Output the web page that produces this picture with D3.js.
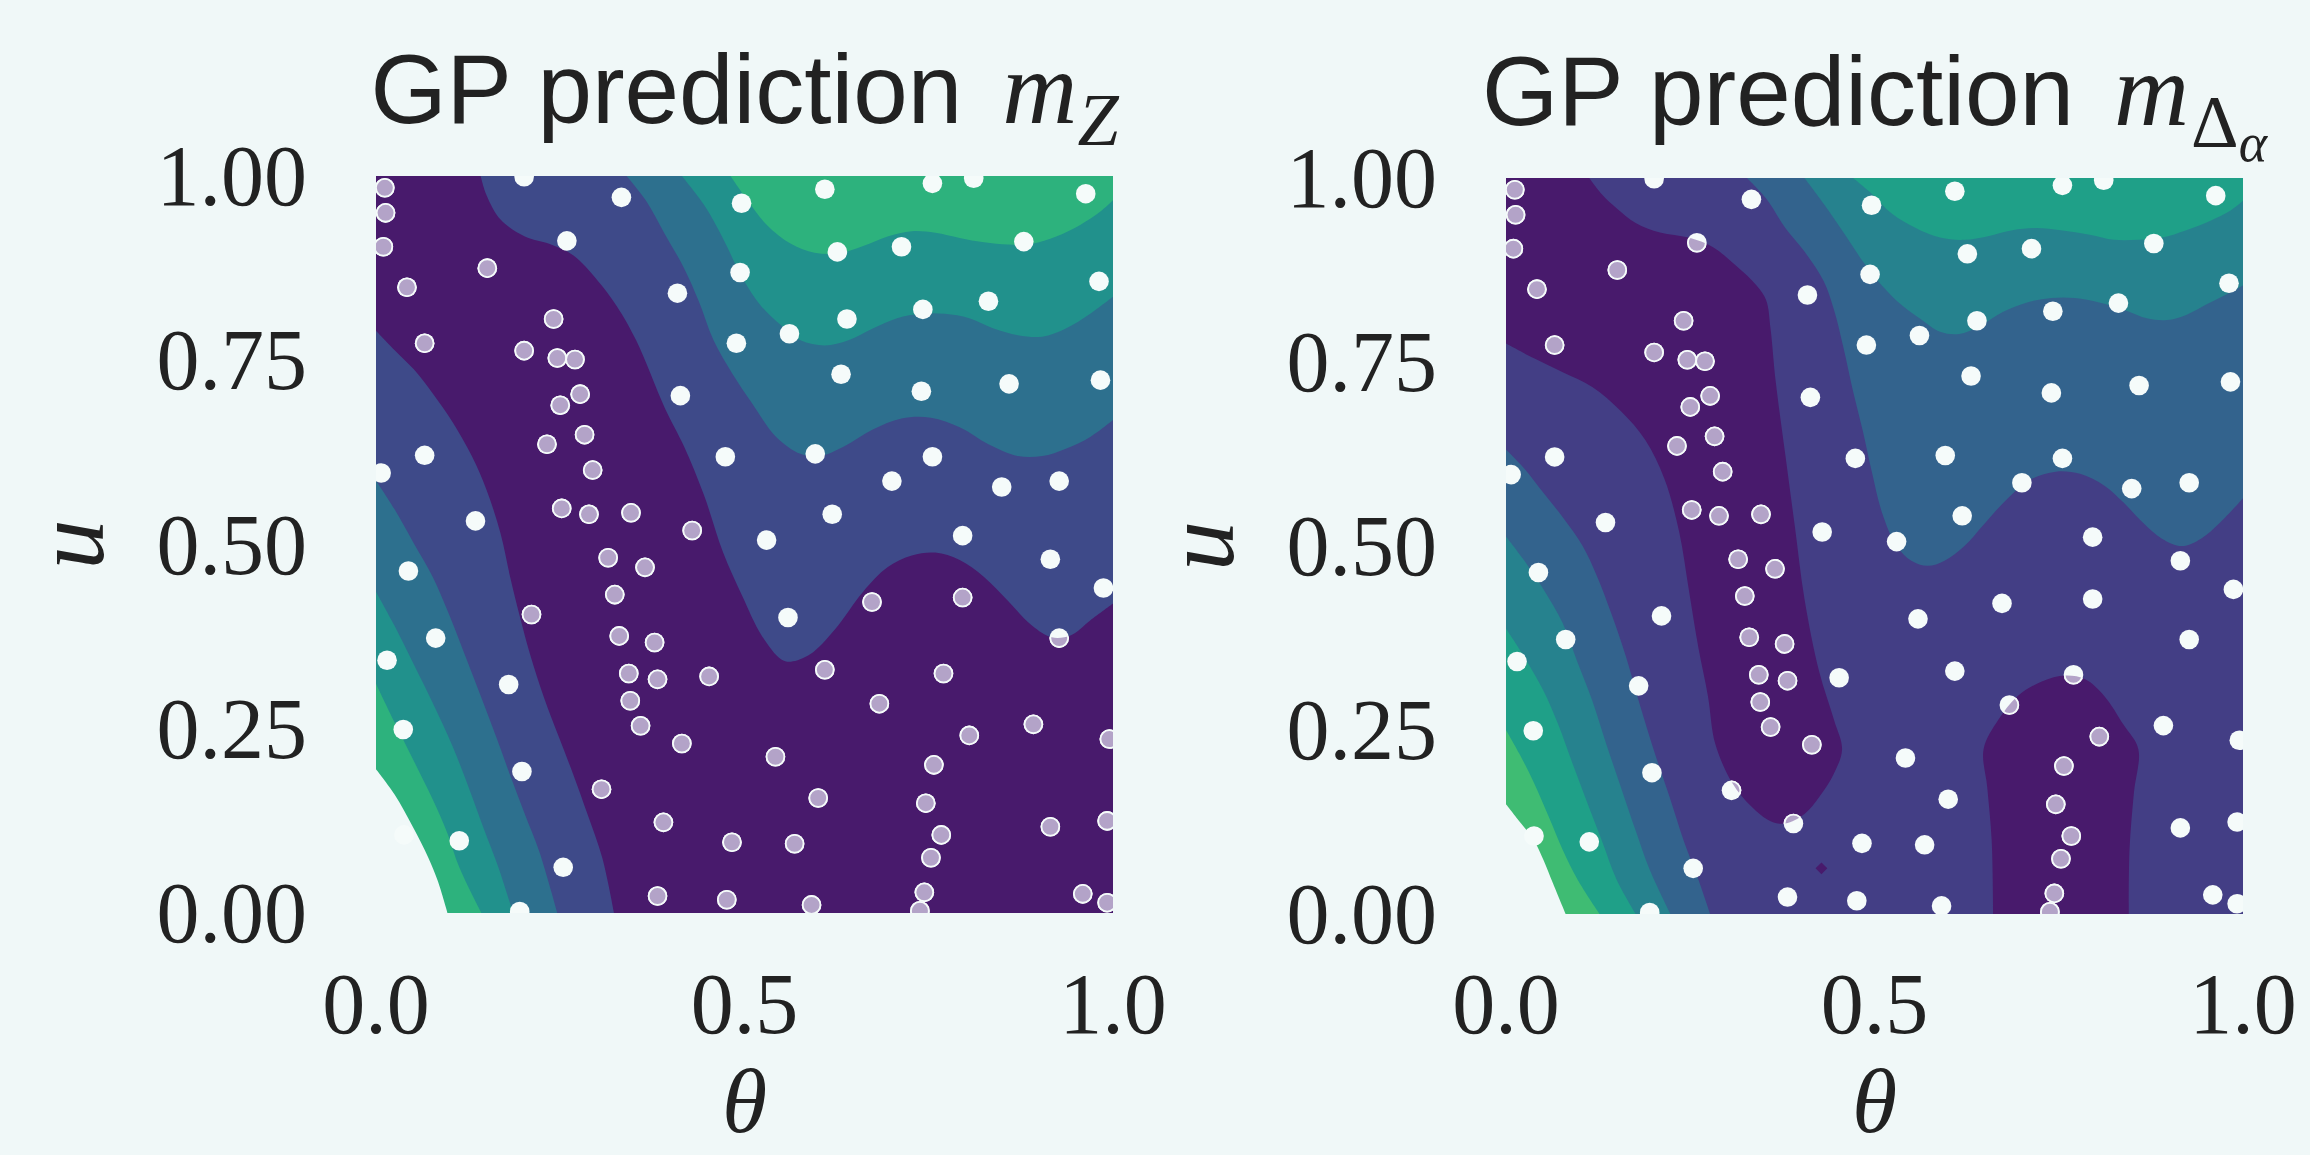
<!DOCTYPE html>
<html>
<head>
<meta charset="utf-8">
<script src="https://cdn.jsdelivr.net/npm/d3@7"></script>
<style>
  body { margin: 0; background: #f0f8f8; }
</style>
</head>
<body>
<div id="chart"></div>
<script>
(function() {

    // ---- data (theta, u) ----
    const thetaTicks = [0, 0.5, 1];
    const uTicks = [0, 0.25, 0.5, 0.75, 1];

    // training points, same design in both panels
    const samples = [
        [0.012,0.984],[0.013,0.950],[0.010,0.904],[0.151,0.875],[0.042,0.849],[0.201,0.999],
        [0.333,0.971],[0.259,0.912],[0.241,0.806],[0.066,0.773],[0.201,0.763],[0.246,0.753],
        [0.270,0.751],[0.277,0.704],[0.250,0.689],[0.283,0.649],[0.232,0.636],[0.294,0.601],
        [0.066,0.621],[0.007,0.597],[0.135,0.532],[0.252,0.549],[0.289,0.541],[0.346,0.543],
        [0.429,0.519],[0.315,0.482],[0.365,0.469],[0.044,0.464],[0.324,0.432],[0.211,0.405],
        [0.081,0.373],[0.330,0.376],[0.378,0.367],[0.015,0.343],[0.180,0.310],[0.343,0.325],
        [0.382,0.317],[0.452,0.321],[0.345,0.288],[0.359,0.254],[0.415,0.230],[0.037,0.249],
        [0.198,0.192],[0.306,0.168],[0.390,0.123],[0.113,0.098],[0.254,0.062],[0.483,0.096],
        [0.568,0.094],[0.382,0.023],[0.476,0.018],[0.591,0.011],[0.195,0.002],[0.542,0.212],
        [0.600,0.156],[0.609,0.330],[0.683,0.284],[0.673,0.422],[0.559,0.401],[0.530,0.506],
        [0.619,0.541],[0.474,0.619],[0.596,0.623],[0.700,0.586],[0.755,0.619],[0.849,0.578],
        [0.927,0.586],[0.796,0.512],[0.915,0.480],[0.987,0.441],[0.796,0.428],[0.927,0.373],
        [0.770,0.325],[0.805,0.241],[0.892,0.256],[0.995,0.236],[0.757,0.201],[0.746,0.149],
        [0.767,0.106],[0.753,0.075],[0.744,0.028],[0.738,0.003],[0.915,0.117],[0.992,0.125],
        [0.959,0.026],[0.992,0.014],[0.413,0.702],[0.489,0.773],[0.561,0.786],[0.639,0.806],
        [0.742,0.819],[0.831,0.830],[0.981,0.857],[0.631,0.731],[0.740,0.708],[0.859,0.718],
        [0.983,0.723],[0.494,0.869],[0.626,0.897],[0.713,0.904],[0.879,0.911],[0.409,0.841],
        [0.496,0.963],[0.609,0.982],[0.755,0.990],[0.811,0.997],[0.963,0.976],[0.038,0.106]
    ];

    // left panel (m_Z): level boundaries
    const zColors = ["#481a6c", "#3e4a89", "#2d708e", "#21918c", "#2db27d"];
    const zTop1 = [[0.142,1.0],[0.150,0.974],[0.169,0.941],[0.202,0.918],[0.235,0.908],[0.268,0.892],
        [0.300,0.859],[0.327,0.823],[0.353,0.777],[0.392,0.685],[0.418,0.633],[0.445,0.567],
        [0.471,0.489],[0.497,0.430],[0.523,0.377],[0.550,0.344],[0.563,0.341],[0.589,0.351],
        [0.622,0.384],[0.661,0.436],[0.694,0.469],[0.727,0.485],[0.759,0.489],[0.792,0.479],
        [0.825,0.456],[0.858,0.423],[0.890,0.390],[0.917,0.374],[0.943,0.377],[0.969,0.397],[1.0,0.420]];
    const zTop2 = [[0.340,1.0],[0.366,0.967],[0.392,0.921],[0.418,0.875],[0.438,0.830],[0.458,0.777],
        [0.484,0.731],[0.510,0.692],[0.543,0.646],[0.576,0.623],[0.602,0.620],[0.635,0.633],
        [0.674,0.656],[0.713,0.671],[0.753,0.672],[0.792,0.659],[0.831,0.636],[0.871,0.620],
        [0.904,0.620],[0.936,0.630],[0.969,0.646],[1.0,0.669]];
    const zTop3 = [[0.415,1.0],[0.445,0.961],[0.471,0.915],[0.497,0.862],[0.523,0.823],[0.550,0.797],
        [0.576,0.777],[0.609,0.770],[0.641,0.777],[0.674,0.793],[0.707,0.807],[0.740,0.813],
        [0.772,0.813],[0.805,0.807],[0.838,0.793],[0.871,0.784],[0.904,0.782],[0.936,0.793],
        [0.969,0.813],[1.0,0.836]];
    const zTop4 = [[0.481,1.0],[0.504,0.967],[0.530,0.934],[0.563,0.908],[0.595,0.896],[0.628,0.895],
        [0.661,0.905],[0.694,0.918],[0.727,0.925],[0.759,0.923],[0.792,0.916],[0.825,0.910],
        [0.858,0.907],[0.890,0.908],[0.923,0.918],[0.956,0.934],[0.982,0.951],[1.0,0.967]];
    const zLow1 = [[0,0.790],[0.025,0.764],[0.051,0.738],[0.077,0.705],[0.104,0.666],[0.130,0.620],
        [0.150,0.574],[0.169,0.515],[0.182,0.456],[0.195,0.403],[0.209,0.351],[0.228,0.292],
        [0.248,0.239],[0.268,0.187],[0.287,0.134],[0.307,0.075],[0.323,0.0]];
    const zLow2 = [[0,0.587],[0.025,0.548],[0.051,0.502],[0.077,0.456],[0.100,0.403],[0.123,0.344],
        [0.143,0.292],[0.163,0.239],[0.182,0.187],[0.202,0.134],[0.222,0.082],[0.246,0.0]];
    const zLow3 = [[0,0.436],[0.025,0.390],[0.051,0.338],[0.077,0.285],[0.104,0.226],[0.127,0.167],
        [0.146,0.115],[0.166,0.062],[0.186,0.0]];
    const zLow4 = [[0,0.311],[0.025,0.259],[0.051,0.207],[0.077,0.154],[0.097,0.108],[0.113,0.062],[0.143,0.0]];
    const zMissing = [[0,0.195],[0.025,0.161],[0.051,0.115],[0.071,0.075],[0.084,0.043],[0.097,0.0]];

    // right panel (m_Delta_alpha)
    const dColors = ["#481a6c", "#433e85", "#33638d", "#26828e", "#1fa088", "#3fbc73"];
    const dLow0Tongue = [[0.113,1.0],[0.130,0.978],[0.150,0.959],[0.176,0.939],[0.209,0.926],[0.248,0.919],
        [0.281,0.906],[0.313,0.880],[0.340,0.854],[0.353,0.834],[0.359,0.795],[0.366,0.723],
        [0.379,0.624],[0.392,0.526],[0.405,0.428],[0.425,0.329],[0.445,0.264],[0.456,0.224],
        [0.445,0.191],[0.425,0.159],[0.405,0.136],[0.379,0.123],[0.359,0.126],[0.333,0.146],
        [0.307,0.178],[0.284,0.231],[0.274,0.296],[0.261,0.362],[0.248,0.441],[0.235,0.519],
        [0.215,0.591],[0.189,0.644],[0.156,0.683],[0.117,0.716],[0.077,0.736],[0.038,0.755],[0,0.775]];
    const dLow0Blob = [[0.661,0.0],[0.659,0.100],[0.653,0.172],[0.648,0.224],[0.668,0.264],[0.694,0.296],
        [0.727,0.316],[0.759,0.324],[0.786,0.319],[0.812,0.296],[0.838,0.257],[0.858,0.224],
        [0.852,0.165],[0.846,0.087],[0.845,0.0]];
    const dLow0Dot = [[0.428,0.070],[0.436,0.062],[0.428,0.054],[0.420,0.062]];
    const dTop2 = [[0.327,1.0],[0.353,0.972],[0.379,0.932],[0.405,0.900],[0.431,0.860],[0.445,0.821],
        [0.458,0.769],[0.471,0.710],[0.484,0.657],[0.497,0.598],[0.510,0.546],[0.530,0.500],
        [0.550,0.480],[0.572,0.473],[0.595,0.480],[0.622,0.500],[0.648,0.529],[0.681,0.565],
        [0.713,0.591],[0.746,0.601],[0.779,0.598],[0.812,0.582],[0.838,0.559],[0.864,0.532],
        [0.890,0.510],[0.917,0.500],[0.943,0.510],[0.969,0.532],[1.0,0.565]];
    const dTop3 = [[0.405,1.0],[0.431,0.965],[0.458,0.926],[0.484,0.887],[0.510,0.854],[0.536,0.828],
        [0.563,0.808],[0.589,0.791],[0.615,0.788],[0.641,0.798],[0.674,0.818],[0.707,0.831],
        [0.740,0.837],[0.772,0.837],[0.805,0.831],[0.838,0.821],[0.871,0.809],[0.897,0.807],
        [0.923,0.814],[0.950,0.828],[0.976,0.841],[1.0,0.854]];
    const dTop4 = [[0.471,1.0],[0.497,0.978],[0.523,0.952],[0.556,0.932],[0.589,0.919],[0.622,0.916],
        [0.654,0.921],[0.687,0.929],[0.720,0.932],[0.753,0.929],[0.792,0.923],[0.825,0.916],
        [0.858,0.916],[0.890,0.919],[0.923,0.929],[0.956,0.942],[0.982,0.955],[1.0,0.969]];
    const dLow2 = [[0,0.631],[0.025,0.605],[0.051,0.572],[0.077,0.539],[0.104,0.500],[0.123,0.460],
        [0.143,0.408],[0.163,0.349],[0.182,0.283],[0.202,0.218],[0.222,0.159],[0.241,0.100],
        [0.261,0.047],[0.277,0.0]];
    const dLow3 = [[0,0.513],[0.025,0.480],[0.051,0.441],[0.077,0.395],[0.097,0.342],[0.117,0.290],
        [0.136,0.231],[0.156,0.172],[0.176,0.113],[0.195,0.060],[0.223,0.0]];
    const dLow4 = [[0,0.388],[0.025,0.349],[0.051,0.303],[0.071,0.257],[0.090,0.205],[0.110,0.152],
        [0.130,0.100],[0.150,0.047],[0.176,0.0]];
    const dLow5 = [[0,0.250],[0.018,0.218],[0.038,0.178],[0.058,0.132],[0.077,0.087],[0.097,0.047],[0.127,0.0]];
    const dMissing = [[0,0.149],[0.018,0.126],[0.038,0.100],[0.051,0.073],[0.064,0.041],[0.081,0.0]];

    // ---- drawing ----
    const W = 2310, H = 1155;
    const bg = "#f0f8f8";
    const dotWhite = "#f5fbfa";
    const dotLow = "#b3a3c8";

    const svg = d3.select("#chart").append("svg")
        .attr("width", W).attr("height", H);
    svg.append("rect").attr("width", W).attr("height", H).attr("fill", bg);
    const defs = svg.append("defs");

    const panels = [
        { id: "mz", left: 376, right: 1113, top: 176, bottom: 913, colors: zColors, base: 0,
          layers: [[zTop1, 1, "ne"], [zTop2, 2, "ne"], [zTop3, 3, "ne"], [zTop4, 4, "ne"],
                   [zLow1, 1, "sw"], [zLow2, 2, "sw"], [zLow3, 3, "sw"], [zLow4, 4, "sw"]],
          missing: zMissing, sub: ["Z"] },
        { id: "md", left: 1506, right: 2243, top: 178, bottom: 914, colors: dColors, base: 1,
          layers: [[dLow0Tongue, 0, "nw"], [dLow0Blob, 0, "s"], [dLow0Dot, 0, "dot"],
                   [dTop2, 2, "ne"], [dTop3, 3, "ne"], [dTop4, 4, "ne"],
                   [dLow2, 2, "sw"], [dLow3, 3, "sw"], [dLow4, 4, "sw"], [dLow5, 5, "sw"]],
          missing: dMissing, sub: ["Δ", "α"] }
    ];

    function regionPath(x, y, pts, side) {
        const o = 0.05;
        if (side === "dot") {
            return d3.line().x(d => x(d[0])).y(d => y(d[1])).curve(d3.curveLinearClosed)(pts);
        }
        const line = d3.line().x(d => x(d[0])).y(d => y(d[1])).curve(d3.curveCatmullRom.alpha(0.5));
        const a = pts[0], b = pts[pts.length - 1];
        let ext = [];
        if (side === "ne") ext = [[1 + o, b[1]], [1 + o, 1 + o], [a[0], 1 + o]];
        if (side === "sw") ext = [[b[0], -o], [-o, -o], [-o, a[1]]];
        if (side === "nw") ext = [[-o, b[1]], [-o, 1 + o], [a[0], 1 + o]];
        if (side === "s")  ext = [[b[0], -o], [a[0], -o]];
        return line(pts) + ext.map(p => "L" + x(p[0]) + "," + y(p[1])).join("") + "Z";
    }

    panels.forEach(p => {
        const x = d3.scaleLinear().domain([0, 1]).range([p.left, p.right]);
        const y = d3.scaleLinear().domain([0, 1]).range([p.bottom, p.top]);
        const w = p.right - p.left, h = p.bottom - p.top;

        defs.append("clipPath").attr("id", "clip-" + p.id)
            .append("rect").attr("x", p.left).attr("y", p.top).attr("width", w).attr("height", h);

        // mask showing only the lowest band (for the tinted points)
        const mask = defs.append("mask").attr("id", "low-" + p.id)
            .attr("maskUnits", "userSpaceOnUse")
            .attr("x", 0).attr("y", 0).attr("width", W).attr("height", H);
        mask.append("rect").attr("x", p.left).attr("y", p.top).attr("width", w).attr("height", h)
            .attr("fill", p.base === 0 ? "white" : "black");
        mask.selectAll("path.m").data(p.layers).join("path")
            .attr("d", d => regionPath(x, y, d[0], d[2]))
            .attr("fill", d => d[1] === 0 ? "white" : "black");
        mask.append("path").attr("d", regionPath(x, y, p.missing, "sw")).attr("fill", "black");

        const g = svg.append("g").attr("clip-path", "url(#clip-" + p.id + ")");
        g.append("rect").attr("x", p.left).attr("y", p.top).attr("width", w).attr("height", h)
            .attr("fill", p.colors[p.base]);
        g.selectAll("path.band").data(p.layers).join("path")
            .attr("class", "band")
            .attr("d", d => regionPath(x, y, d[0], d[2]))
            .attr("fill", d => p.colors[d[1]]);
        g.append("path").attr("d", regionPath(x, y, p.missing, "sw")).attr("fill", bg);

        g.selectAll("circle.pt").data(samples).join("circle")
            .attr("class", "pt")
            .attr("cx", d => x(d[0])).attr("cy", d => y(d[1]))
            .attr("r", 9.8).attr("fill", dotWhite);
        g.append("g").attr("mask", "url(#low-" + p.id + ")")
            .selectAll("circle").data(samples).join("circle")
            .attr("cx", d => x(d[0])).attr("cy", d => y(d[1]))
            .attr("r", 8.9).attr("fill", dotLow)
            .attr("stroke", dotWhite).attr("stroke-width", 1.8);

        // ticks
        svg.append("g").selectAll("text").data(uTicks).join("text")
            .attr("x", p.left - 69).attr("y", d => y(d)).attr("dy", "0.34em")
            .attr("text-anchor", "end")
            .attr("font-family", "'Liberation Serif', serif").attr("font-size", 86)
            .attr("fill", "#222")
            .text(d => d3.format(".2f")(d));
        svg.append("g").selectAll("text").data(thetaTicks).join("text")
            .attr("x", d => x(d)).attr("y", 1033)
            .attr("text-anchor", "middle")
            .attr("font-family", "'Liberation Serif', serif").attr("font-size", 86)
            .attr("fill", "#222")
            .text(d => d3.format(".1f")(d));

        // axis labels
        svg.append("text")
            .attr("transform", "translate(" + (p.left - 273) + "," + (p.top + h / 2) + ") rotate(-90)")
            .attr("text-anchor", "middle")
            .attr("font-family", "'Liberation Serif', serif").attr("font-style", "italic")
            .attr("font-size", 100).attr("fill", "#222")
            .text("u");
        svg.append("text")
            .attr("x", p.left + w / 2).attr("y", 1132)
            .attr("text-anchor", "middle")
            .attr("font-family", "'Liberation Serif', serif").attr("font-style", "italic")
            .attr("font-size", 92).attr("fill", "#222")
            .text("θ");

        // title
        const t = svg.append("text")
            .attr("x", p.left + w / 2).attr("y", p.top - 53)
            .attr("text-anchor", "middle").attr("fill", "#222");
        t.append("tspan").attr("font-family", "'Liberation Sans', sans-serif")
            .attr("font-size", 98).text("GP prediction");
        t.append("tspan").attr("dx", 40)
            .attr("font-family", "'Liberation Serif', serif").attr("font-style", "italic")
            .attr("font-size", 104).text("m");
        if (p.sub.length === 1) {
            t.append("tspan").attr("dy", 22)
                .attr("font-family", "'Liberation Serif', serif").attr("font-style", "italic")
                .attr("font-size", 74).text(p.sub[0]);
        } else {
            t.append("tspan").attr("dy", 22).attr("dx", 2)
                .attr("font-family", "'Liberation Serif', serif")
                .attr("font-size", 74).text(p.sub[0]);
            t.append("tspan").attr("dy", 14)
                .attr("font-family", "'Liberation Serif', serif").attr("font-style", "italic")
                .attr("font-size", 54).text(p.sub[1]);
        }
    });

})();
</script>
</body>
</html>
